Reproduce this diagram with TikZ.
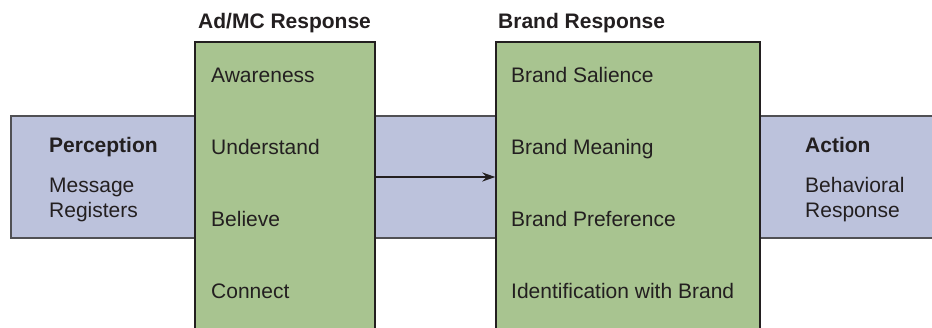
\documentclass[tikz,border=0pt]{standalone}
\usepackage{fontspec}
\setmainfont{Liberation Sans}
\usetikzlibrary{arrows.meta}
\definecolor{bandblue}{RGB}{188,194,220}
\definecolor{boxgreen}{RGB}{168,196,144}
\definecolor{ink}{RGB}{35,31,32}
\definecolor{bandline}{RGB}{80,80,84}
\tikzset{
  band/.style={rectangle, draw=bandline, fill=bandblue, line width=1.4pt, inner sep=0pt},
  greenbox/.style={rectangle, draw=ink, fill=boxgreen, line width=1.4pt, inner sep=0pt, minimum width=180pt, minimum height=310pt},
  txt/.style={anchor=base west, inner sep=0pt, text=ink, font=\fontsize{21}{24}\selectfont},
  btxt/.style={txt, font=\fontsize{21}{24}\selectfont\bfseries},
  flow/.style={draw=ink, line width=1.8pt, -{Stealth[length=13pt,width=9pt]}}
}
\begin{document}
\begin{tikzpicture}[x=1pt,y=-1pt]
\useasboundingbox (0,0) rectangle (932,327);
\clip (0,0) rectangle (932,327);
\fill[white] (0,0) rectangle (932,327);
% band
\node[band, minimum width=960pt, minimum height=122pt] (bandbox) at (491,177) {};
% green boxes
\node[greenbox] (adbox) at (285,197) {};
\node[greenbox, minimum width=264pt] (brbox) at (628,197) {};
% arrow
\draw[flow] (adbox.east |- bandbox.center) -- (brbox.west |- bandbox.center);
% headings
\node[btxt] (adhead) at (198,28) {Ad/MC Response};
\node[btxt] (brhead) at (498,28) {Brand Response};
% perception
\node[btxt] (perc) at (49,152) {Perception};
\node[txt] (msg1) at (49,192) {Message};
\node[txt] (msg2) at (49,217) {Registers};
% ad items
\node[txt] (aw) at (211,82) {Awareness};
\node[txt] (un) at (211,154) {Understand};
\node[txt] (be) at (211,226) {Believe};
\node[txt] (co) at (211,298) {Connect};
% brand items
\node[txt] (bs) at (511,82) {Brand Salience};
\node[txt] (bm) at (511,154) {Brand Meaning};
\node[txt] (bp) at (511,226) {Brand Preference};
\node[txt] (ib) at (511,298) {Identification with Brand};
% action
\node[btxt] (act) at (805,152) {Action};
\node[txt] (beh1) at (805,192) {Behavioral};
\node[txt] (beh2) at (805,217) {Response};
\end{tikzpicture}
\end{document}
